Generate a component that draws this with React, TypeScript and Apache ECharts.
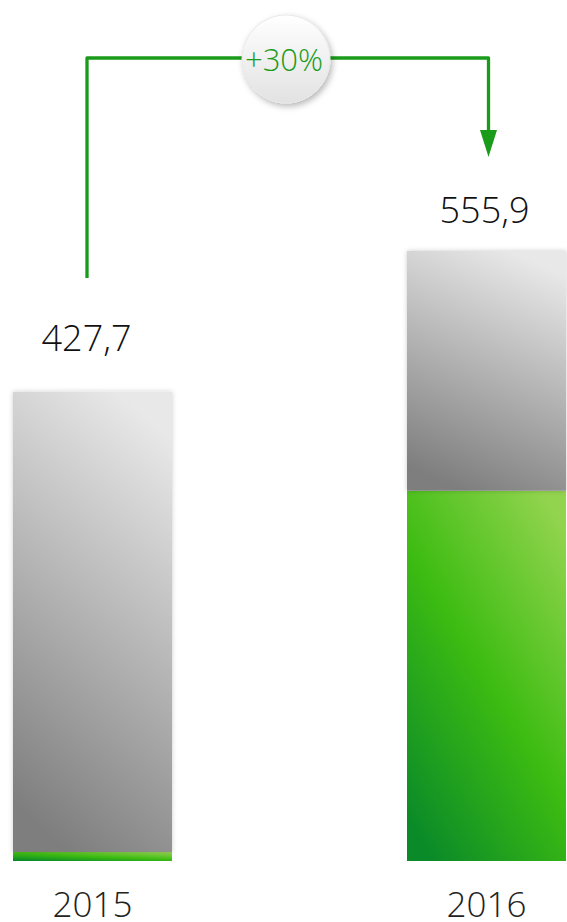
import React, { useEffect, useRef } from "react";
import * as echarts from "echarts";

const years = ["2015", "2016"];
const totals = [427.7, 555.9];
const greenPart = [8.2, 337.3];
const grayPart = [419.5, 218.6];
const growthLabel = "+30%";
const labelDistances = [36, 24];
const labelOffsetX = [-6, -2];

const FONT = "'Open Sans', 'Noto Sans', sans-serif";

export default function App() {
  const ref = useRef<HTMLDivElement>(null);
  useEffect(() => {
    if (!ref.current) return;
    const chart = echarts.init(ref.current, null, { renderer: "svg" });
    const grayGrad = new echarts.graphic.LinearGradient(0.35, 1, 0.65, 0, [
      { offset: 0, color: "#7e7e7e" },
      { offset: 1, color: "#e8e8e8" },
    ]);
    const greenGrad = new echarts.graphic.LinearGradient(0.15, 1, 0.85, 0, [
      { offset: 0, color: "#0a8a28" },
      { offset: 0.5, color: "#3dbc12" },
      { offset: 1, color: "#92d44e" },
    ]);
    const circleGrad = new echarts.graphic.LinearGradient(0, 0, 0, 1, [
      { offset: 0, color: "#ffffff" },
      { offset: 1, color: "#e2e2e2" },
    ]);
    const green = "#1a9c1a";
    chart.setOption({
      animation: false,
      grid: { left: 92.5, right: 80.5, top: 251, bottom: 61, outerBoundsMode: "none" },
      xAxis: {
        type: "category",
        data: years,
        boundaryGap: false,
        axisLine: { show: false },
        axisTick: { show: false },
        axisLabel: {
          fontSize: 35,
          lineHeight: 28,
          fontFamily: FONT,
          fontWeight: 300,
          color: "#222",
          margin: 28,
        },
      },
      yAxis: { type: "value", min: 0, max: 555.9, show: false },
      series: [
        {
          type: "bar",
          stack: "t",
          barWidth: 159,
          clip: false,
          data: greenPart,
          itemStyle: { color: greenGrad },
        },
        {
          type: "bar",
          stack: "t",
          barWidth: 159,
          clip: false,
          data: grayPart.map((v, i) => ({
            value: v,
            label: { distance: labelDistances[i], offset: [labelOffsetX[i], 0] },
          })),
          itemStyle: { color: grayGrad, shadowBlur: 5, shadowColor: "rgba(0,0,0,0.2)" },
          label: {
            show: true,
            position: "top",
            fontSize: 36,
            fontFamily: FONT,
            fontWeight: 300,
            color: "#111",
            formatter: (p: any) => totals[p.dataIndex].toFixed(1).replace(".", ","),
          },
        },
      ],
      graphic: [
        {
          type: "polyline",
          shape: { points: [[87, 278], [87, 58], [488.5, 58], [488.5, 135]] },
          style: { stroke: green, lineWidth: 3.3, fill: null, lineJoin: "round" },
        },
        {
          type: "polygon",
          shape: { points: [[480, 130], [497, 130], [488.5, 157]] },
          style: { fill: green },
        },
        {
          type: "circle",
          shape: { cx: 286, cy: 59, r: 44 },
          style: {
            fill: circleGrad,
            stroke: "#e8e8e8",
            lineWidth: 1,
            shadowBlur: 6,
            shadowOffsetX: 2,
            shadowOffsetY: 3,
            shadowColor: "rgba(0,0,0,0.28)",
          },
        },
        {
          type: "text",
          x: 284,
          y: 59,
          style: {
            text: growthLabel,
            fontSize: 31,
            fontFamily: FONT,
            fontWeight: 300,
            fill: green,
            align: "center",
            verticalAlign: "middle",
          },
        },
      ],
    });
    return () => chart.dispose();
  }, []);
  return <div ref={ref} style={{ width: 567, height: 922, position: "absolute", left: 0, top: 0 }} />;
}
